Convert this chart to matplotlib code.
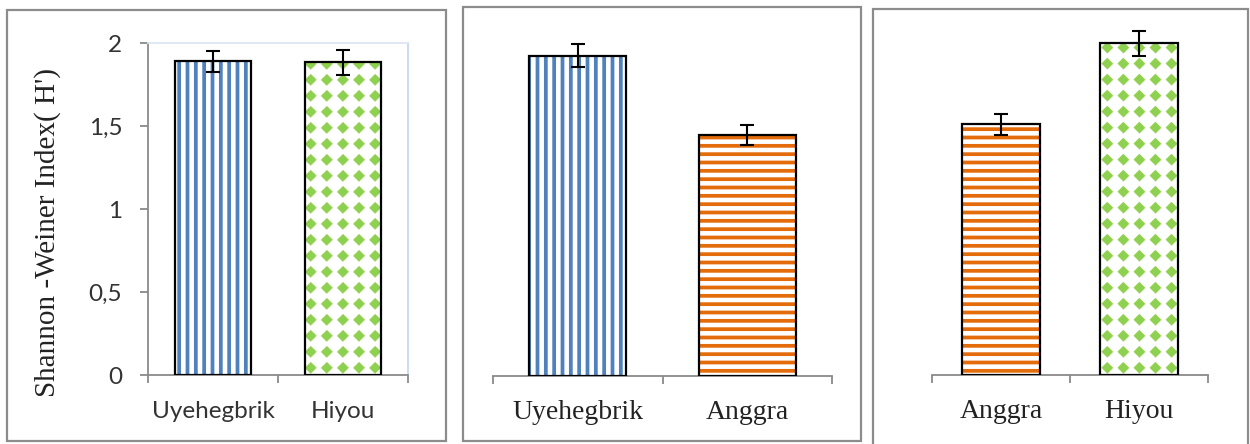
import numpy as np
import matplotlib
matplotlib.use("Agg")
import matplotlib.pyplot as plt
from matplotlib.patches import Rectangle
from matplotlib.ticker import FuncFormatter
from matplotlib.colors import to_rgba

# Shannon-Wiener diversity (H') for each pair of sites, with error bars
p1_sites = ["Uyehegbrik", "Hiyou"]
p1_values = [1.89, 1.885]
p1_errors = [0.063, 0.075]

p2_sites = ["Uyehegbrik", "Anggra"]
p2_values = [1.93, 1.45]
p2_errors = [0.07, 0.06]

p3_sites = ["Anggra", "Hiyou"]
p3_values = [1.51, 2.0]
p3_errors = [0.063, 0.075]

y_ticks = [0, 0.5, 1, 1.5, 2]
y_label = "Shannon -Weiner Index( H')"

BLUE = "#4f81bd"
ORANGE = "#e46c0a"
GREEN = "#8fd14f"
GREY = "#8a8a8a"

site_style = {
    "Uyehegbrik": ("vstripe", BLUE),
    "Anggra": ("hstripe", ORANGE),
    "Hiyou": ("dots", GREEN),
}

plt.rcParams["hatch.linewidth"] = 2.7

W, H = 1250, 444
fig = plt.figure(figsize=(W / 100, H / 100), dpi=100)
fig.patch.set_facecolor("white")


def px_axes(left, top, right, bottom):
    return fig.add_axes([left / W, 1 - bottom / H, (right - left) / W, (bottom - top) / H])


def panel_frame(left, top, right, bottom):
    fig.add_artist(Rectangle((left / W, 1 - bottom / H), (right - left) / W, (bottom - top) / H,
                             transform=fig.transFigure, fill=False,
                             edgecolor="#8c8c8c", linewidth=1.6))


def dot_fill(ax, bar, color, spacing=16.0, ss=4):
    """Fill a bar with a square lattice of rounded four-point stars."""
    bb = bar.get_window_extent()
    nx = max(int(round(bb.width * ss)), 1)
    ny = max(int(round(bb.height * ss)), 1)
    px = (np.arange(nx) + 0.5) / ss
    py = (np.arange(ny) + 0.5) / ss
    dx = ((px - bb.width / 2) / spacing + 0.5) % 1 - 0.5
    dy = ((py - spacing * 0.45) / spacing + 0.5) % 1 - 0.5
    DX, DY = np.meshgrid(dx, dy)
    star = (DX ** 2 + DY ** 2 < 0.26 ** 2) | (np.abs(DX) + np.abs(DY) < 0.37)
    img = np.empty((ny, nx, 4))
    img[:] = to_rgba("white")
    img[star] = to_rgba(color)
    x0 = bar.get_x()
    ax.imshow(img, extent=(x0, x0 + bar.get_width(), 0, bar.get_height()),
              origin="lower", aspect="auto", interpolation="antialiased",
              zorder=2, clip_path=bar)


def draw_panel(ax, sites, values, errors, width, ylim, font, fsize, pad):
    x = np.arange(len(sites))
    ax.set_xlim(-0.5, len(sites) - 0.5)
    ax.set_ylim(*ylim)
    for xi, site, v in zip(x, sites, values):
        kind, color = site_style[site]
        if kind == "vstripe":
            ax.bar(xi, v, width, facecolor="white", edgecolor=color, hatch="||",
                   linewidth=0, zorder=2)
        elif kind == "hstripe":
            ax.bar(xi, v, width, facecolor="white", edgecolor=color, hatch="--",
                   linewidth=0, zorder=2)
        else:
            bar = ax.bar(xi, v, width, facecolor="white", linewidth=0, zorder=1)[0]
            dot_fill(ax, bar, color)
    ax.bar(x, values, width, fill=False, edgecolor="black", linewidth=1.6, zorder=4)
    ax.errorbar(x, values, yerr=errors, fmt="none", ecolor="black", elinewidth=1.5,
                capsize=4.7, capthick=1.5, zorder=5)
    ax.set_xlim(-0.5, len(sites) - 0.5)
    ax.set_ylim(*ylim)

    ax.set_xticks(x)
    ax.set_xticklabels(sites, fontfamily=font, fontsize=fsize)
    ax.set_xticks(np.arange(len(sites) + 1) - 0.5, minor=True)
    ax.tick_params(axis="x", which="major", length=0, pad=pad)
    ax.tick_params(axis="x", which="minor", length=6, width=1.3, color=GREY,
                   direction="out")
    ax.spines["bottom"].set_color(GREY)
    ax.spines["bottom"].set_linewidth(1.3)
    ax.set_facecolor("none")


# Left panel: with its own y axis
ax1 = px_axes(148, 43, 408, 375)
draw_panel(ax1, p1_sites, p1_values, p1_errors, 0.58, (0, 2), "Lato", 17.5, 18.5)
for lbl in ax1.get_xticklabels():
    lbl.set_color("#333333")
ax1.set_yticks(y_ticks)
ax1.yaxis.set_major_formatter(FuncFormatter(lambda v, _: f"{v:g}".replace(".", ",")))
ax1.tick_params(axis="y", length=6, width=1.3, color=GREY, pad=12.5,
                labelsize=17.5, labelcolor="#333333")
for lbl in ax1.get_yticklabels():
    lbl.set_fontfamily("Lato")
ax1.spines["left"].set_color(GREY)
ax1.spines["left"].set_linewidth(1.3)
ax1.spines["top"].set_color("#dce6f2")
ax1.spines["right"].set_color("#c6d9f1")
ax1.spines["top"].set_linewidth(1.3)
ax1.spines["right"].set_linewidth(1.3)
ax1.set_ylabel(y_label, fontfamily="Liberation Serif", fontsize=21, color="#222222",
               va="center")
ax1.yaxis.set_label_coords(-0.385, 0.428)

# Middle and right panels: bars only
ax2 = px_axes(493, 11, 832, 376)
draw_panel(ax2, p2_sites, p2_values, p2_errors, 0.575, (0, 2.2), "Liberation Serif", 20, 17.5)
ax3 = px_axes(932, 10, 1208, 375)
draw_panel(ax3, p3_sites, p3_values, p3_errors, 0.57, (0, 2.2), "Liberation Serif", 20, 17.5)
for ax in (ax2, ax3):
    ax.yaxis.set_visible(False)
    for side in ("left", "top", "right"):
        ax.spines[side].set_visible(False)
    for lbl in ax.get_xticklabels():
        lbl.set_color("#222222")

panel_frame(7, 10, 446, 441)
panel_frame(463, 7, 861, 441)
panel_frame(873, 9, 1248, 470)

fig.savefig("out.png", dpi=100, facecolor="white")
